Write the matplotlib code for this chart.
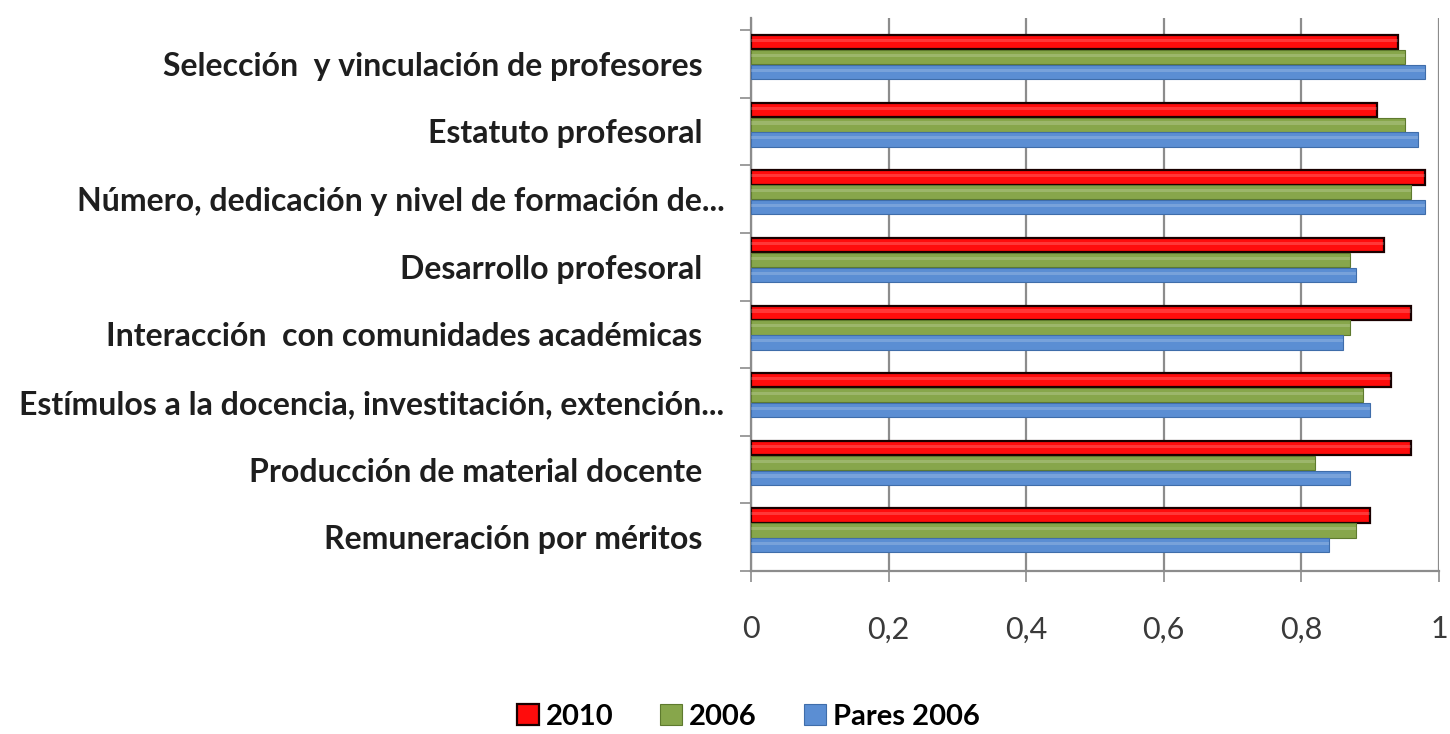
import matplotlib
matplotlib.use("Agg")
import matplotlib.pyplot as plt
import numpy as np
from matplotlib.transforms import ScaledTranslation

# data (top to bottom)
categories = [
    "Selección  y vinculación de profesores",
    "Estatuto profesoral",
    "Número, dedicación y nivel de formación de...",
    "Desarrollo profesoral",
    "Interacción  con comunidades académicas",
    "Estímulos a la docencia, investitación, extención...",
    "Producción de material docente",
    "Remuneración por méritos",
]
series_names = ["2010", "2006", "Pares 2006"]
v2010 = [0.94, 0.91, 0.98, 0.92, 0.96, 0.93, 0.96, 0.90]
v2006 = [0.95, 0.95, 0.96, 0.87, 0.87, 0.89, 0.82, 0.88]
vpares = [0.98, 0.97, 0.98, 0.88, 0.86, 0.90, 0.87, 0.84]
xticks = [0, 0.2, 0.4, 0.6, 0.8, 1.0]
xtick_labels = ["0", "0,2", "0,4", "0,6", "0,8", "1"]

plt.rcParams['font.family'] = ['Lato', 'DejaVu Sans']

fig = plt.figure(figsize=(14.5, 7.34), dpi=100)
cat_px = 67.6
extra_top = 12 / cat_px
ax = fig.add_axes([751 / 1450, 1 - 571 / 734, 688 / 1450, 553 / 734])

y = np.arange(len(categories))
h = 0.21
offsets = [-0.32, -0.10, 0.12]
faces = ["#FF0C0C", "#87A64B", "#5B8ED3"]
edges = ["#1A0000", "#5E7A2E", "#3F6DAA"]
widths = [1.6, 0.8, 0.8]

for vals, off, fc, ec, lw, name in zip([v2010, v2006, vpares], offsets, faces, edges, widths, series_names):
    ax.barh(y + off, vals, height=h, color=fc, edgecolor=ec, linewidth=lw, label=name, zorder=3)
    # a light streak to hint at the cylinder shading
    ax.barh(y + off - h * 0.12, vals, height=h * 0.22, color="white", alpha=0.18, linewidth=0, zorder=4)

ax.set_xlim(0, 1)
ax.set_ylim(len(categories) - 0.5, -0.5 - extra_top)

ax.set_xticks(xticks)
ax.set_xticklabels(xtick_labels, fontsize=22, color="#3A3A3A")
ax.tick_params(axis="x", length=8, width=1.2, color="#8C8C8C", pad=24)

ax.set_yticks(y)
ax.set_yticklabels(categories, fontsize=23, fontweight="bold", color="#1E1E1E")
ax.tick_params(axis="y", length=0, pad=35)
ax.set_yticks(np.arange(-0.5, len(categories)), minor=True)
ax.tick_params(axis="y", which="minor", length=8, width=1.2, color="#8C8C8C")

# truncated labels sit closer to the axis in the original
for lbl in ax.get_yticklabels():
    if lbl.get_text().endswith("..."):
        lbl.set_transform(lbl.get_transform() + ScaledTranslation(0.22, 0, fig.dpi_scale_trans))

ax.grid(axis="x", color="#8C8C8C", linewidth=1.6, zorder=0)
for s in ["top", "right"]:
    ax.spines[s].set_visible(False)
for s in ["left", "bottom"]:
    ax.spines[s].set_color("#8C8C8C")
    ax.spines[s].set_linewidth(1.6)

fig.legend(loc="lower center", bbox_to_anchor=(0.516, -0.03), ncol=3, frameon=False,
           prop={"size": 21, "weight": "bold"}, handlelength=0.75, handleheight=0.75,
           handletextpad=0.25, columnspacing=1.6)

fig.savefig("out.png", dpi=100)
